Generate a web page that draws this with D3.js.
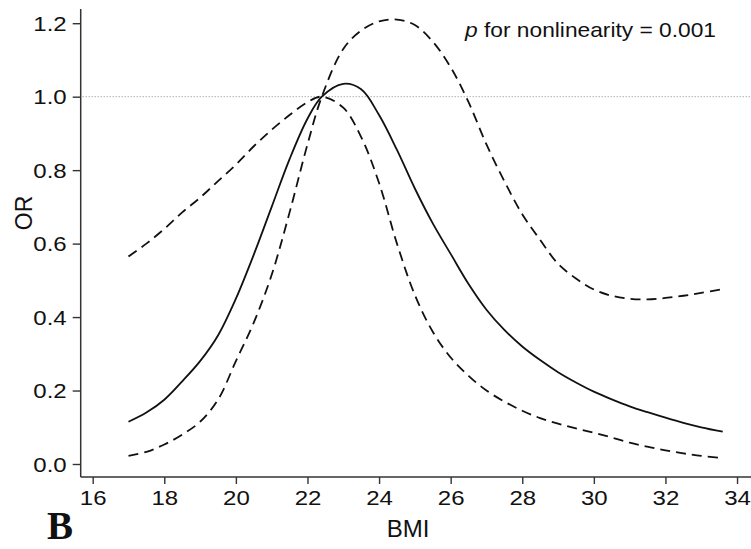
<!DOCTYPE html>
<html>
<head>
<meta charset="utf-8">
<script src="https://cdn.jsdelivr.net/npm/d3@7"></script>
<style>
  body { margin: 0; background: #fff; }
  svg text { font-family: "Liberation Sans", Arial, sans-serif; fill: #111; }
</style>
</head>
<body>
<svg id="chart" width="751" height="549"></svg>
<script>
// BMI grid and the three curves
const bmi = [17, 17.5, 18, 18.5, 19, 19.5, 20, 20.5, 21, 21.5, 22, 22.4, 23, 23.5, 24, 24.5, 25, 25.5,
  26, 26.5, 27, 27.5, 28, 28.5, 29, 29.5, 30, 30.5, 31, 31.5, 32, 32.5, 33, 33.6];
const orEst = [0.115, 0.14, 0.175, 0.225, 0.28, 0.35, 0.45, 0.57, 0.70, 0.83, 0.94, 1.0, 1.035, 1.02, 0.95, 0.855, 0.75, 0.655,
  0.572, 0.49, 0.42, 0.365, 0.32, 0.283, 0.25, 0.222, 0.197, 0.176, 0.157, 0.141, 0.126, 0.112, 0.1, 0.088];
// dashed curve peaking at 1.0 (upper bound left of 22.4, lower bound right of it)
const ciA = [0.565, 0.60, 0.64, 0.685, 0.725, 0.77, 0.815, 0.865, 0.91, 0.95, 0.985, 1.0, 0.97, 0.89, 0.765, 0.60, 0.46, 0.36,
  0.29, 0.24, 0.2, 0.17, 0.145, 0.125, 0.11, 0.097, 0.085, 0.072, 0.058, 0.047, 0.037, 0.029, 0.022, 0.016];
// dashed curve peaking at 1.21
const ciB = [0.022, 0.033, 0.053, 0.08, 0.115, 0.175, 0.28, 0.385, 0.515, 0.685, 0.87, 1.0, 1.13, 1.18, 1.205, 1.21, 1.195, 1.15,
  1.08, 0.985, 0.87, 0.77, 0.68, 0.61, 0.545, 0.505, 0.475, 0.458, 0.45, 0.448, 0.452, 0.458, 0.466, 0.476];
const xTicks = [16, 18, 20, 22, 24, 26, 28, 30, 32, 34];
const yTicks = [0, 0.2, 0.4, 0.6, 0.8, 1.0, 1.2];
const refLine = 1.0;
const note = "for nonlinearity = 0.001";

const svg = d3.select("#chart");
const SX = 1.2; // the original text is drawn somewhat wide

const x = d3.scaleLinear().domain([15.665, 34.39]).range([80.7, 751]);
const y = d3.scaleLinear().domain([-0.0354, 1.2387]).range([477, 9]);

function widen(sel, k) {
  sel.each(function() {
    const w = this.getComputedTextLength();
    d3.select(this).attr("textLength", w * (k || SX)).attr("lengthAdjust", "spacingAndGlyphs");
  });
}

// reference line
svg.append("line")
    .attr("x1", x.range()[0] + 2).attr("x2", x.range()[1])
    .attr("y1", y(refLine)).attr("y2", y(refLine))
    .attr("stroke", "#8a8a8a").attr("stroke-width", 1)
    .attr("stroke-dasharray", "1,2");

// axes
const xAxis = svg.append("g")
    .attr("transform", "translate(0," + y.range()[0] + ")")
    .call(d3.axisBottom(x).tickValues(xTicks).tickSize(7).tickPadding(7).tickFormat(d3.format("d")));
const yAxis = svg.append("g")
    .attr("transform", "translate(" + x.range()[0] + ",0)")
    .call(d3.axisLeft(y).tickValues(yTicks).tickSize(8).tickPadding(6).tickFormat(d3.format(".1f")));

[xAxis, yAxis].forEach(function(g) {
  g.select(".domain").remove();
  g.selectAll(".tick line").attr("stroke", "#333").attr("stroke-width", 1.4);
  g.selectAll(".tick text").attr("font-size", 20).attr("fill", "#1a1a1a")
    .style("font-family", "'Liberation Sans', Arial, sans-serif");
  widen(g.selectAll(".tick text"));
});
yAxis.selectAll(".tick text").attr("dy", "0.36em");

svg.append("line")
    .attr("x1", x.range()[0]).attr("x2", x.range()[1])
    .attr("y1", y.range()[0]).attr("y2", y.range()[0])
    .attr("stroke", "#333").attr("stroke-width", 1.5);
svg.append("line")
    .attr("x1", x.range()[0]).attr("x2", x.range()[0])
    .attr("y1", y.range()[0]).attr("y2", y.range()[1])
    .attr("stroke", "#333").attr("stroke-width", 1.5);

// curves
const line = function(vals) {
  return d3.line()
    .x(function(d, i) { return x(bmi[i]); })
    .y(function(d) { return y(d); })
    .curve(d3.curveCatmullRom.alpha(0.5))(vals);
};

svg.append("path").attr("d", line(ciA))
    .attr("fill", "none").attr("stroke", "#111").attr("stroke-width", 1.8)
    .attr("stroke-dasharray", "10,6");
svg.append("path").attr("d", line(ciB))
    .attr("fill", "none").attr("stroke", "#111").attr("stroke-width", 1.8)
    .attr("stroke-dasharray", "10,6");
svg.append("path").attr("d", line(orEst))
    .attr("fill", "none").attr("stroke", "#111").attr("stroke-width", 1.8);

// titles
svg.append("text")
    .attr("x", 408).attr("y", 537)
    .attr("text-anchor", "middle")
    .attr("font-size", 24)
    .text("BMI");

svg.append("text")
    .attr("transform", "translate(32,213) rotate(-90)")
    .attr("text-anchor", "middle")
    .attr("font-size", 23)
    .text("OR");

svg.append("text")
    .attr("x", 47).attr("y", 539)
    .attr("font-size", 39)
    .attr("font-weight", "bold")
    .style("font-family", "'Liberation Serif', 'Times New Roman', serif")
    .text("B");

const ann = svg.append("text")
    .attr("x", 465).attr("y", 37)
    .attr("font-size", 21)
    .attr("textLength", 251).attr("lengthAdjust", "spacingAndGlyphs");
ann.append("tspan").attr("font-style", "italic").text("p");
ann.append("tspan").text(" " + note);
</script>
</body>
</html>
